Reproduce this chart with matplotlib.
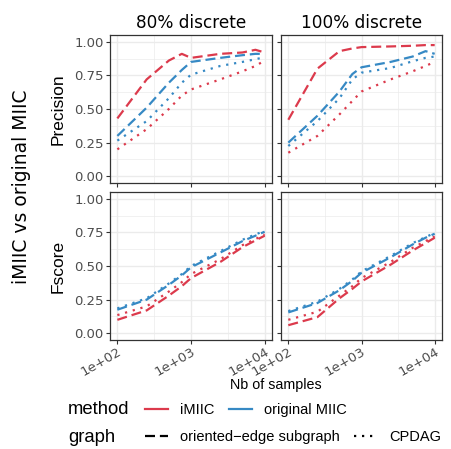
"""iMIIC vs original MIIC: precision / Fscore against sample size."""

import matplotlib

matplotlib.use("Agg")
import matplotlib.pyplot as plt  # noqa: E402
from matplotlib.lines import Line2D  # noqa: E402
from matplotlib.ticker import FixedLocator, NullFormatter  # noqa: E402

samples = [100, 250, 500, 750, 1000, 2500, 5000, 7500, 10000]
panels = ["80% discrete", "100% discrete"]
metrics = ["Precision", "Fscore"]

# precision, 80% discrete
prec80_imiic_orient = [0.43, 0.72, 0.86, 0.91, 0.88, 0.91, 0.92, 0.94, 0.92]
prec80_imiic_cpdag = [0.20, 0.35, 0.50, 0.60, 0.645, 0.72, 0.78, 0.82, 0.86]
prec80_miic_orient = [0.30, 0.51, 0.695, 0.79, 0.85, 0.88, 0.90, 0.91, 0.91]
prec80_miic_cpdag = [0.265, 0.41, 0.58, 0.695, 0.755, 0.82, 0.85, 0.87, 0.885]
# precision, 100% discrete
prec100_imiic_orient = [0.42, 0.80, 0.93, 0.95, 0.96, 0.965, 0.97, 0.975, 0.975]
prec100_imiic_cpdag = [0.175, 0.30, 0.46, 0.56, 0.63, 0.72, 0.78, 0.82, 0.85]
prec100_miic_orient = [0.25, 0.45, 0.63, 0.76, 0.81, 0.85, 0.89, 0.93, 0.91]
prec100_miic_cpdag = [0.225, 0.41, 0.58, 0.72, 0.77, 0.805, 0.855, 0.88, 0.89]
# Fscore, 80% discrete
f80_imiic_orient = [0.10, 0.17, 0.28, 0.35, 0.41, 0.53, 0.64, 0.69, 0.725]
f80_imiic_cpdag = [0.135, 0.20, 0.31, 0.38, 0.44, 0.55, 0.655, 0.70, 0.735]
f80_miic_orient = [0.175, 0.25, 0.36, 0.43, 0.49, 0.60, 0.685, 0.725, 0.755]
f80_miic_cpdag = [0.185, 0.26, 0.37, 0.44, 0.50, 0.61, 0.695, 0.735, 0.76]
# Fscore, 100% discrete
f100_imiic_orient = [0.06, 0.12, 0.26, 0.33, 0.385, 0.51, 0.615, 0.67, 0.71]
f100_imiic_cpdag = [0.10, 0.16, 0.28, 0.35, 0.41, 0.53, 0.635, 0.685, 0.72]
f100_miic_orient = [0.155, 0.225, 0.32, 0.39, 0.45, 0.565, 0.66, 0.71, 0.74]
f100_miic_cpdag = [0.165, 0.235, 0.33, 0.40, 0.46, 0.575, 0.67, 0.715, 0.745]

series = {
    ("Precision", "80% discrete"): [prec80_imiic_orient, prec80_imiic_cpdag, prec80_miic_orient, prec80_miic_cpdag],
    ("Precision", "100% discrete"): [prec100_imiic_orient, prec100_imiic_cpdag, prec100_miic_orient, prec100_miic_cpdag],
    ("Fscore", "80% discrete"): [f80_imiic_orient, f80_imiic_cpdag, f80_miic_orient, f80_miic_cpdag],
    ("Fscore", "100% discrete"): [f100_imiic_orient, f100_imiic_cpdag, f100_miic_orient, f100_miic_cpdag],
}

RED = "#DC3A4C"
BLUE = "#3689C4"
DASH = (0, (4.5, 2.2))
DOT = (0, (1, 2.6))
styles = [(RED, DASH), (RED, DOT), (BLUE, DASH), (BLUE, DOT)]

W, H = 452, 449
fig = plt.figure(figsize=(W / 100, H / 100), dpi=100)


def px_axes(x0, y0, x1, y1):
    return fig.add_axes([x0 / W, 1 - y1 / H, (x1 - x0) / W, (y1 - y0) / H])


cols = [(110, 272), (281, 442)]
rows = [(35, 183), (192, 340)]

for i, metric in enumerate(metrics):
    for j, panel in enumerate(panels):
        ax = px_axes(cols[j][0], rows[i][0], cols[j][1], rows[i][1])
        for vals, (c, ls) in zip(series[(metric, panel)], styles):
            ax.plot(samples, vals, color=c, linestyle=ls, lw=1.6, zorder=3)
        ax.set_xscale("log")
        ax.set_xlim(10 ** 1.9, 10 ** 4.1)
        ax.set_ylim(-0.05, 1.05)
        ax.xaxis.set_major_locator(FixedLocator([100, 1000, 10000]))
        ax.xaxis.set_minor_locator(FixedLocator([10 ** 2.5, 10 ** 3.5]))
        ax.xaxis.set_minor_formatter(NullFormatter())
        ax.yaxis.set_major_locator(FixedLocator([0, 0.25, 0.5, 0.75, 1.0]))
        ax.yaxis.set_minor_locator(FixedLocator([0.125, 0.375, 0.625, 0.875]))
        ax.grid(which="major", color="#EBEBEB", lw=1.0, zorder=0)
        ax.grid(which="minor", color="#EBEBEB", lw=0.5, zorder=0)
        ax.set_axisbelow(True)
        ax.tick_params(which="minor", length=0)
        ax.tick_params(which="major", length=3, width=0.8, color="#333333",
                       labelsize=9.5, labelcolor="#4D4D4D", pad=1.5)
        ax.tick_params(axis="x", pad=0.5)
        for s in ax.spines.values():
            s.set_color("#333333")
            s.set_linewidth(0.9)
        if i == 1:
            ax.set_xticklabels(["1e+02", "1e+03", "1e+04"], rotation=30, ha="right",
                               rotation_mode="anchor")
        else:
            ax.set_xticklabels([])
        if j == 0:
            ax.set_yticklabels(["0.00", "0.25", "0.50", "0.75", "1.00"])
        else:
            ax.set_yticklabels([])
        if i == 0:
            ax.set_title(panel, fontsize=12.2, pad=5, family="DejaVu Sans")
    fig.text(58 / W, 1 - (sum(rows[i]) / 2) / H, metric, rotation=90, ha="center",
             va="center", fontsize=12.5, family="Liberation Sans")

fig.text(22 / W, 1 - 187 / H, "iMIIC vs original MIIC", rotation=90, ha="center",
         va="center", fontsize=13.5, family="DejaVu Sans")
fig.text(276 / W, 1 - 385 / H, "Nb of samples", ha="center", va="center",
         fontsize=10.3, family="Liberation Sans")

# legend rows
fig.text(68 / W, 1 - 410 / H, "method", ha="left", va="center", fontsize=13.3,
         family="Liberation Sans")
fig.text(68 / W, 1 - 437 / H, "graph", ha="left", va="center", fontsize=13.3,
         family="Liberation Sans")
leg_kw = dict(frameon=False, ncol=2, handlelength=1.6, handletextpad=0.8,
              columnspacing=1.0, prop={"family": "Liberation Sans", "size": 10.5},
              borderaxespad=0, borderpad=0)
h_method = [Line2D([], [], color=RED, lw=1.6), Line2D([], [], color=BLUE, lw=1.6)]
fig.legend(h_method, ["iMIIC", "original MIIC"], loc="center left",
           bbox_to_anchor=(145 / W, 1 - 410 / H), **leg_kw)
h_graph = [Line2D([], [], color="black", lw=1.6, linestyle=DASH),
           Line2D([], [], color="black", lw=1.6, linestyle=DOT)]
fig.legend(h_graph, ["oriented\u2212edge subgraph", "CPDAG"], loc="center left",
           bbox_to_anchor=(145 / W, 1 - 437 / H), **leg_kw)

fig.savefig("out.png", dpi=100)
